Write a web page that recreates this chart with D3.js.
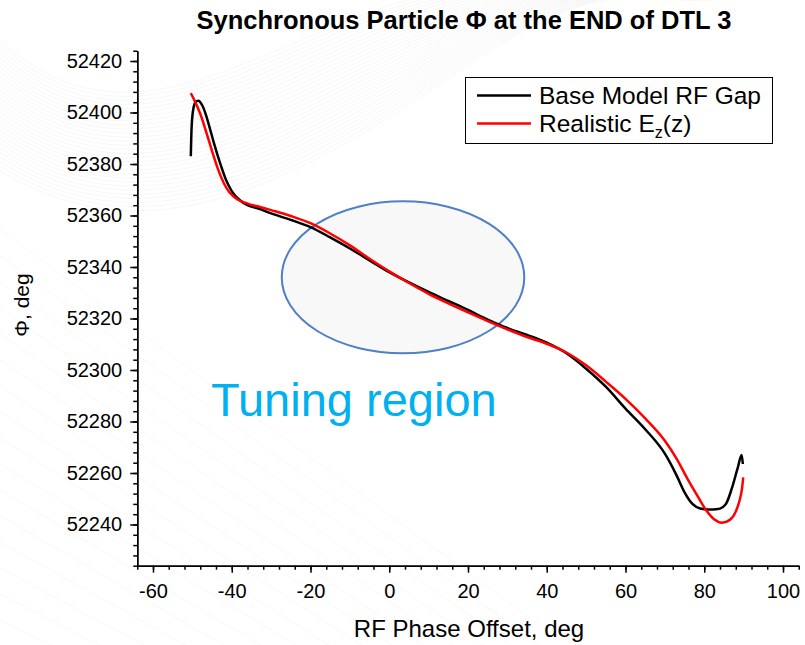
<!DOCTYPE html>
<html>
<head>
<meta charset="utf-8">
<script src="https://cdn.jsdelivr.net/npm/d3@7"></script>
<style>
  body { margin: 0; background: #fff; }
  text { font-family: "Liberation Sans", Arial, sans-serif; }
  .axis path, .axis line { stroke: #000; stroke-width: 1.5; }
</style>
</head>
<body>
<div id="chart-area"></div>
<script>
// data
var baseX = [-50.4, -50.2, -49.8, -49.2, -48.5, -47.5, -46.5, -45.5, -44.5, -43, -41.5, -40, -38, -36, -33, -30, -25, -20, -15, -10, -5, 0, 5, 10, 15, 20, 25, 30, 35, 40, 45, 50, 55, 60, 65, 70, 73, 75, 77, 79, 81, 83.5, 85.5, 87, 88.5, 89.5, 89.8]
var basePhi = [52383, 52394, 52401, 52404, 52404.6, 52402.8, 52398.8, 52393.5, 52388, 52380.5, 52374, 52369.5, 52366, 52364, 52362.6, 52360.8, 52358.3, 52355.5, 52351.5, 52347.2, 52342.6, 52338, 52334, 52330.3, 52326.8, 52323.3, 52319.6, 52316.3, 52313.6, 52310.6, 52306.5, 52300.5, 52293.5, 52285, 52277, 52267.5, 52259, 52252.5, 52248, 52246.2, 52245.8, 52246, 52248, 52254, 52262, 52267, 52263.5]

var realX = [-50.4, -49.5, -48, -46.5, -45, -43.5, -42, -40.5, -38.5, -36, -33, -30, -25, -20, -15, -10, -5, 0, 5, 10, 15, 20, 25, 30, 35, 40, 45, 50, 55, 60, 65, 70, 73, 76, 78.5, 80.5, 82.5, 84.5, 86.5, 88, 89, 89.6, 89.9]
var realPhi = [52407.5, 52404.8, 52399.5, 52392.5, 52385, 52378, 52372.5, 52368.8, 52366.2, 52364.6, 52363.4, 52362.1, 52359.8, 52357, 52353, 52348.4, 52343.2, 52338.3, 52333.8, 52329.6, 52325.9, 52322.4, 52319, 52315.8, 52312.8, 52310.2, 52306.8, 52301.8, 52295.5, 52288.8, 52281.2, 52272.5, 52265.5, 52257, 52250.5, 52245.5, 52242, 52240.7, 52241.8, 52245, 52249.5, 52254, 52258.3]

var xTicks = [-60, -40, -20, 0, 20, 40, 60, 80, 100]
var yTicks = [52240, 52260, 52280, 52300, 52320, 52340, 52360, 52380, 52400, 52420]
var xDomain = [-64, 104]
var yDomain = [52224, 52424]

// tuning region ellipse: centre and half-widths in data units
var tuneCentre = [3.5, 52336]
var tuneHalf = [30.8, 29.5]

var seriesNames = ["Base Model RF Gap", "Realistic E"]
var seriesColors = ["#000000", "#ff0000"]

var margin = { top: 50.7, left: 137.25, right: 6.25, bottom: 79.3 }
var width = 805 - margin.left - margin.right
var height = 645 - margin.top - margin.bottom

var svg = d3.select("#chart-area")
  .append("svg")
  .attr("width", 805)
  .attr("height", 645)

// faint background swooshes (slide template)
var bg = svg.append("g").attr("fill", "none").attr("stroke", "#efefef").attr("stroke-width", 0.7)
for (var i = 0; i < 30; i++) {
  bg.append("path")
    .attr("opacity", 0.7)
    .attr("d", "M0," + (40 + i * 4.5) + " C140," + (170 + i * 3) + " 280," + (20 + i * 6) + " 450," + (i * 3 - 10) + " S640," + (-20 + i) + " 720," + (-30 + i))
}
for (var j = 0; j < 16; j++) {
  bg.append("path")
    .attr("opacity", 0.6)
    .attr("d", "M0," + (230 + j * 26) + " L" + (560 - j * 14) + "," + (640 + j * 10))
}

var g = svg.append("g")
  .attr("transform", "translate(" + margin.left + "," + margin.top + ")")

var x = d3.scaleLinear().domain(xDomain).range([0, width])
var y = d3.scaleLinear().domain(yDomain).range([height, 0])

// ellipse
g.append("ellipse")
  .attr("cx", x(tuneCentre[0]))
  .attr("cy", y(tuneCentre[1]))
  .attr("rx", x(tuneCentre[0] + tuneHalf[0]) - x(tuneCentre[0]))
  .attr("ry", y(tuneCentre[1] - tuneHalf[1]) - y(tuneCentre[1]))
  .attr("fill", "#f8f8f9")
  .attr("stroke", "#4f7fc6")
  .attr("stroke-width", 2)

g.append("text")
  .text("Tuning region")
  .attr("x", 211 - margin.left)
  .attr("y", 416 - margin.top)
  .attr("font-size", "47px")
  .attr("fill", "#00b0f0")

// curves
var line = d3.line()
  .x(d => x(d[0]))
  .y(d => y(d[1]))
  .curve(d3.curveMonotoneX)

var series = [
  d3.zip(baseX, basePhi),
  d3.zip(realX, realPhi)
]

g.selectAll(".curve")
  .data(series)
  .enter()
  .append("path")
  .attr("class", "curve")
  .attr("d", line)
  .attr("fill", "none")
  .attr("stroke", (d, i) => seriesColors[i])
  .attr("stroke-width", 2.5)
  .attr("stroke-linejoin", "round")

// axes - minor first, then major with labels
var minorX = d3.range(xDomain[0], xDomain[1] + 0.1, 4)
var minorY = d3.range(yDomain[0], yDomain[1] + 0.1, 4)

g.append("g")
  .attr("class", "axis")
  .attr("transform", "translate(0," + height + ")")
  .call(d3.axisBottom(x).tickValues(minorX).tickSize(4).tickSizeOuter(0).tickFormat(""))

g.append("g")
  .attr("class", "axis")
  .call(d3.axisLeft(y).tickValues(minorY).tickSize(4).tickSizeOuter(0).tickFormat(""))

var xAxisCall = d3.axisBottom(x)
  .tickValues(xTicks)
  .tickSize(7)
  .tickSizeOuter(0)
  .tickPadding(11)
  .tickFormat(d => String(d))

g.append("g")
  .attr("class", "x axis")
  .attr("transform", "translate(0," + height + ")")
  .call(xAxisCall)
  .selectAll("text")
  .attr("font-size", "20px")
  .attr("font-family", "Liberation Sans, Arial, sans-serif")
  .attr("fill", "#000")

var yAxisCall = d3.axisLeft(y)
  .tickValues(yTicks)
  .tickSize(7)
  .tickSizeOuter(0)
  .tickPadding(8)
  .tickFormat(d => String(d))

g.append("g")
  .attr("class", "y axis")
  .call(yAxisCall)
  .selectAll("text")
  .attr("font-size", "20px")
  .attr("font-family", "Liberation Sans, Arial, sans-serif")
  .attr("fill", "#000")

// titles
svg.append("text")
  .text("Synchronous Particle \u03a6 at the END of DTL 3")
  .attr("x", 464)
  .attr("y", 29)
  .attr("text-anchor", "middle")
  .attr("font-size", "25.5px")
  .attr("font-weight", "bold")

svg.append("text")
  .text("RF Phase Offset, deg")
  .attr("x", 469)
  .attr("y", 637)
  .attr("text-anchor", "middle")
  .attr("font-size", "24px")

svg.append("text")
  .text("\u03a6, deg")
  .attr("x", -305)
  .attr("y", 29)
  .attr("text-anchor", "middle")
  .attr("font-size", "21px")
  .attr("transform", "rotate(-90)")

// legend
var legend = svg.append("g").attr("transform", "translate(465.5,77.5)")

legend.append("rect")
  .attr("width", 307)
  .attr("height", 66)
  .attr("fill", "#fff")
  .attr("stroke", "#000")
  .attr("stroke-width", 1)

var rows = legend.selectAll(".row")
  .data(seriesNames)
  .enter()
  .append("g")
  .attr("class", "row")
  .attr("transform", (d, i) => "translate(0," + (18 + i * 28) + ")")

rows.append("line")
  .attr("x1", 11.5)
  .attr("x2", 65.5)
  .attr("stroke", (d, i) => seriesColors[i])
  .attr("stroke-width", 2.5)

var labels = rows.append("text")
  .attr("x", 73.5)
  .attr("y", 8.5)
  .attr("font-size", "24.5px")
  .text(d => d)

labels.filter((d, i) => i == 1)
  .append("tspan")
  .attr("font-size", "16px")
  .attr("dy", 6)
  .text("z")
labels.filter((d, i) => i == 1)
  .append("tspan")
  .attr("dy", -6)
  .text("(z)")
</script>
</body>
</html>
